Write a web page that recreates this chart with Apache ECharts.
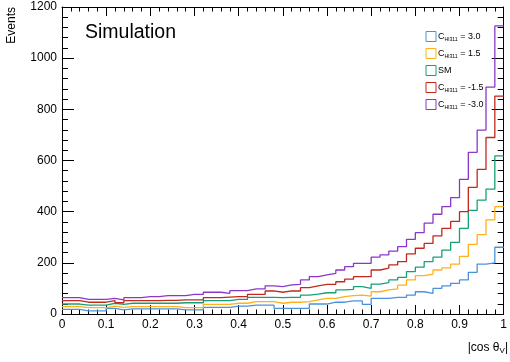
<!DOCTYPE html>
<html>
<head>
<meta charset="utf-8">
<script src="https://cdn.jsdelivr.net/npm/echarts@6/dist/echarts.min.js"></script>
<style>html,body{margin:0;padding:0;background:#fff}#chart{width:510px;height:362px}</style>
</head>
<body>
<div id="chart"></div>
<script>
// 50 bins of |cos theta_V| from 0 to 1
const binWidth = 0.02;
const seriesNames = ['C3.0', 'C1.5', 'SM', 'C-1.5', 'C-3.0'];
const legendLabels = ['{m|C}{s|Hl311}{m| = 3.0}', '{m|C}{s|Hl311}{m| = 1.5}', '{m|SM}', '{m|C}{s|Hl311}{m| = -1.5}', '{m|C}{s|Hl311}{m| = -3.0}'];
const colors = ['#4a92de', '#ffb11b', '#17a077', '#c3281c', '#8a38c9'];

const blue = [18,18,12,12,12,22,16,20,20,20, 20,20,20,16,16,16,26,26,26,31, 31,35,35,35,22,22,22,22,39,39, 46,46,51,51,38,61,61,65,65,74, 87,81,100,110,120,133,163,195,200,261];
const orange = [29,29,25,25,25,31,26,29,29,29, 29,29,29,25,25,25,38,38,38,42, 42,48,48,48,42,46,46,48,55,61, 61,68,72,74,70,87,94,98,113,133, 150,156,172,180,195,225,272,310,368,420];
const green = [39,39,35,35,35,42,38,42,42,42, 42,42,42,44,44,44,52,52,52,57, 57,65,65,65,64,65,65,74,78,83, 83,94,96,107,100,117,123,133,143,166, 183,205,222,250,280,335,405,445,488,618];
const red = [52,52,46,46,46,52,44,52,52,52, 52,53,53,55,55,55,64,64,66,68, 68,77,77,90,85,90,90,103,110,116, 116,126,136,146,146,172,179,192,205,235, 257,276,305,335,362,400,495,565,690,852];
const purple = [64,64,57,57,57,61,55,64,64,68, 68,72,72,72,77,77,85,85,81,91, 91,98,98,110,107,114,116,133,146,153, 159,172,185,198,198,222,231,246,263,292, 318,355,390,420,455,526,632,719,887,1126];
const allValues = [blue, orange, green, red, purple];

const font = 'Liberation Sans';

// bin low edges + closing point at the upper edge
function toSteps(vals) {
  const pts = vals.map((v, i) => [i * binWidth, v]);
  pts.push([vals.length * binWidth, vals[vals.length - 1]]);
  return pts;
}

const chart = echarts.init(document.getElementById('chart'));

const axisLine = { show: true, onZero: false, lineStyle: { color: '#000', width: 1 } };

const option = {
  animation: false,
  textStyle: { fontFamily: font },
  grid: { left: 62, right: 1, top: 7, bottom: 48 },
  xAxis: [
    {
      type: 'value', min: 0, max: 1, interval: 0.1, position: 'bottom',
      axisLine: axisLine,
      axisTick: { inside: true, length: 9, lineStyle: { color: '#000' } },
      minorTick: { show: true, splitNumber: 5, length: 4.5, lineStyle: { color: '#000' } },
      axisLabel: { color: '#000', fontSize: 12, margin: 5, fontFamily: font },
      splitLine: { show: false }
    },
    {
      type: 'value', min: 0, max: 1, interval: 0.1, position: 'top',
      axisLine: axisLine,
      axisTick: { inside: true, length: 9, lineStyle: { color: '#000' } },
      minorTick: { show: true, splitNumber: 5, length: 4.5, lineStyle: { color: '#000' } },
      axisLabel: { show: false },
      splitLine: { show: false }
    }
  ],
  yAxis: [
    {
      type: 'value', min: 0, max: 1200, interval: 200, position: 'left',
      axisLine: axisLine,
      axisTick: { inside: true, length: 12, lineStyle: { color: '#000' } },
      minorTick: { show: true, splitNumber: 5, length: 6, lineStyle: { color: '#000' } },
      axisLabel: { color: '#000', fontSize: 12, margin: 5, fontFamily: font, formatter: (v) => String(v) },
      splitLine: { show: false }
    },
    {
      type: 'value', min: 0, max: 1200, interval: 200, position: 'right',
      axisLine: axisLine,
      axisTick: { inside: true, length: 12, lineStyle: { color: '#000' } },
      minorTick: { show: true, splitNumber: 5, length: 6, lineStyle: { color: '#000' } },
      axisLabel: { show: false },
      splitLine: { show: false }
    }
  ],
  legend: {
    orient: 'vertical',
    left: 425.5,
    top: 31,
    padding: 0,
    itemWidth: 10,
    itemHeight: 10,
    itemGap: 6,
    icon: 'rect',
    data: seriesNames.map((n, i) => ({
      name: n,
      itemStyle: { color: '#fff', borderColor: colors[i], borderWidth: 1 }
    })),
    formatter: (name) => legendLabels[seriesNames.indexOf(name)],
    textStyle: {
      padding: [0, 0, 0, -3],
      rich: {
        m: { fontSize: 9, lineHeight: 11, color: '#000', fontFamily: font },
        s: { fontSize: 5.2, lineHeight: 4, color: '#000', fontFamily: font, verticalAlign: 'bottom' }
      }
    }
  },
  graphic: [
    {
      type: 'text', x: 85, y: 33,
      style: { text: 'Simulation', fontSize: 19.5, fill: '#000', fontFamily: font, verticalAlign: 'middle' }
    },
    {
      type: 'text', x: 12, y: 7, rotation: Math.PI / 2,
      style: { text: 'Events', fontSize: 12, fill: '#000', fontFamily: font, align: 'right', verticalAlign: 'middle' }
    },
    {
      type: 'text', x: 508, y: 348,
      style: {
        text: '{a||cos θ}{s|V}{a||}',
        align: 'right', verticalAlign: 'middle',
        rich: {
          a: { fontSize: 12, fill: '#000', fontFamily: font },
          s: { fontSize: 8, fill: '#000', fontFamily: font, padding: [6, 0, 0, 0] }
        }
      }
    }
  ],
  series: allValues.map((vals, i) => ({
    name: seriesNames[i],
    type: 'line',
    step: 'end',
    showSymbol: false,
    symbol: 'none',
    color: colors[i],
    lineStyle: { color: colors[i], width: 1.3 },
    data: toSteps(vals)
  }))
};

chart.setOption(option);
</script>
</body>
</html>
